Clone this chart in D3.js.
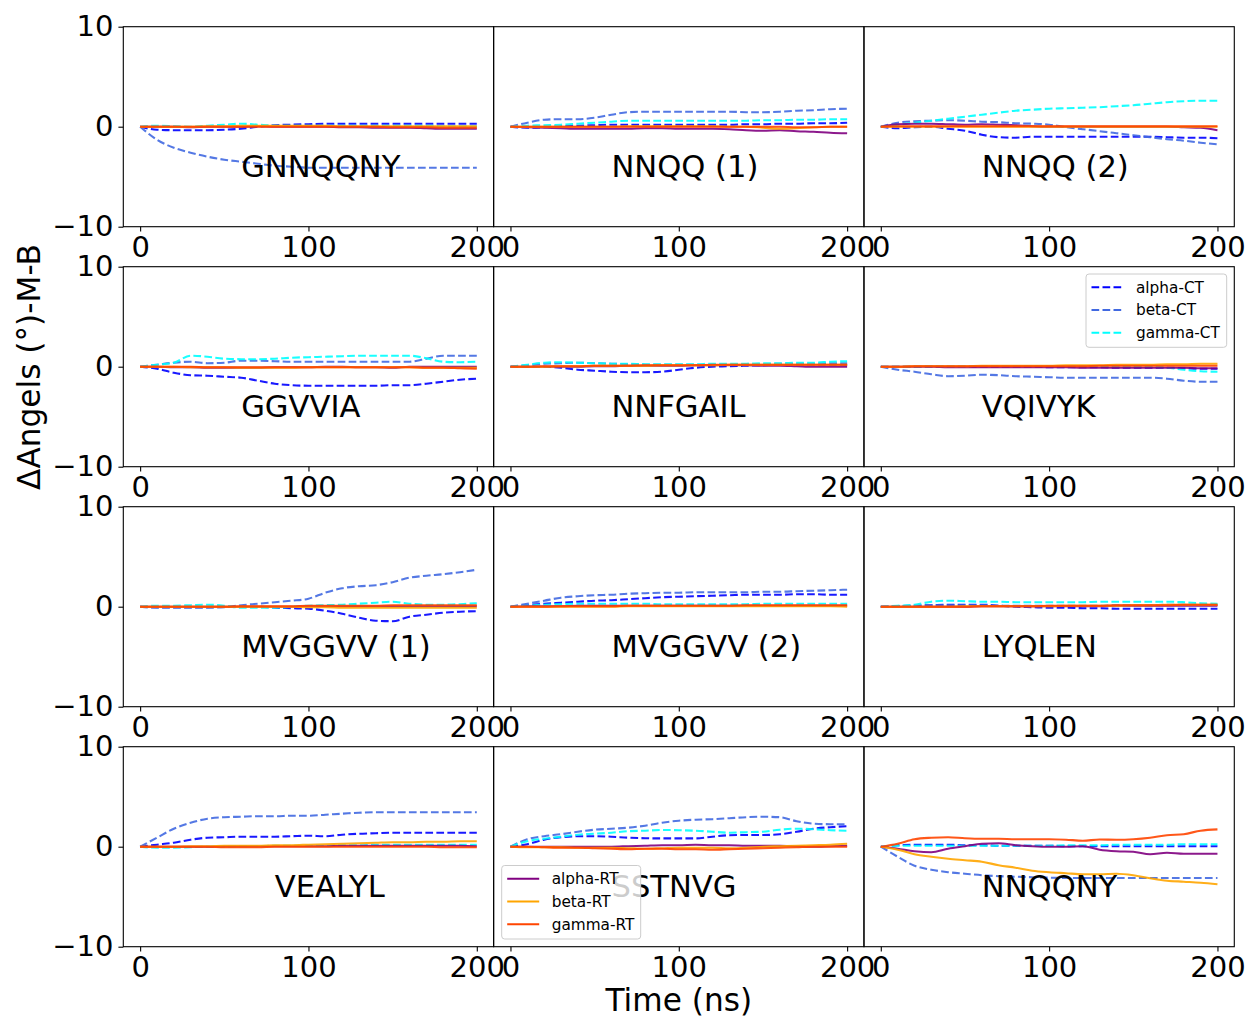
<!DOCTYPE html>
<html>
<head>
<meta charset="utf-8">
<script src="https://cdn.jsdelivr.net/npm/d3@7"></script>
<style>
  html, body { margin: 0; padding: 0; background: #ffffff; }
  svg { display: block; font-family: "DejaVu Sans", sans-serif; }
</style>
</head>
<body>
<svg id="chart" width="1250" height="1019"></svg>
<script>
// ---------------- data ----------------
const panelNames = ["GNNQQNY", "NNQQ (1)", "NNQQ (2)", "GGVVIA", "NNFGAIL", "VQIVYK",
                    "MVGGVV (1)", "MVGGVV (2)", "LYQLEN", "VEALYL", "SSTNVG", "NNQQNY"];
const labelX = [60, 60, 60, 60, 60, 60, 60, 60, 60, 80, 60, 60];
const labelY = -5;
const time = [0,10,20,30,40,50,60,70,80,90,100,110,120,130,140,150,160,170,180,190,200];
const xTicks = [0, 100, 200];
const yTicks = [-10, 0, 10];
const seriesNames = ["alpha-CT", "beta-CT", "gamma-CT", "alpha-RT", "beta-RT", "gamma-RT"];

const alphaCT = [
  [0,-0.3,-0.35,-0.35,-0.35,-0.3,-0.2,0,0.15,0.2,0.25,0.3,0.3,0.3,0.3,0.3,0.3,0.3,0.3,0.3,0.3],
  [0,-0.1,-0.05,0.05,0.1,0.15,0.2,0.2,0.2,0.2,0.2,0.2,0.2,0.2,0.25,0.25,0.3,0.3,0.35,0.35,0.4],
  [0,-0.15,-0.05,0,-0.2,-0.4,-0.8,-1.05,-1.1,-1.0,-1.0,-1.0,-1.0,-1.0,-1.0,-1.0,-1.0,-1.05,-1.1,-1.1,-1.15],
  [0,-0.2,-0.6,-0.85,-0.9,-1.0,-1.1,-1.4,-1.7,-1.85,-1.9,-1.9,-1.9,-1.9,-1.9,-1.85,-1.85,-1.7,-1.5,-1.3,-1.2],
  [0,0,0,-0.1,-0.3,-0.4,-0.5,-0.55,-0.55,-0.5,-0.3,-0.1,0,0.05,0.1,0.15,0.2,0.2,0.2,0.2,0.15],
  [0,0,0,0,0,0,0,0,0,0,-0.05,-0.05,-0.05,-0.05,-0.1,-0.1,-0.1,-0.1,-0.15,-0.2,-0.2],
  [0,-0.05,-0.05,-0.05,-0.05,0,0,0,-0.1,-0.15,-0.2,-0.4,-0.7,-1.1,-1.4,-1.45,-1.0,-0.8,-0.6,-0.5,-0.45],
  [0,0.15,0.3,0.4,0.5,0.6,0.65,0.75,0.85,0.95,1.0,1.05,1.1,1.15,1.2,1.2,1.2,1.25,1.25,1.2,1.2],
  [0,0.05,0.1,0.15,0.2,0.2,0.2,0.1,0,-0.05,-0.1,-0.1,-0.15,-0.15,-0.2,-0.2,-0.2,-0.2,-0.2,-0.2,-0.2],
  [0,0.2,0.4,0.7,0.9,0.95,1.0,1.0,1.0,1.05,1.1,1.05,1.2,1.3,1.35,1.4,1.4,1.4,1.4,1.4,1.4],
  [0,0.25,0.7,0.95,1.05,1.05,1.0,0.9,0.85,0.83,0.83,0.83,1.0,1.15,1.17,1.17,1.25,1.5,1.8,1.95,2.05],
  [0,0.15,0.2,0.2,0.2,0.15,0.15,0.1,0.1,0.1,0.1,0.05,0.05,0.05,0.05,0.05,0.05,0.05,0.05,0.05,0.05]
];
const betaCT = [
  [0,-1.3,-2.1,-2.6,-3.0,-3.3,-3.5,-3.7,-3.9,-4.0,-4.1,-4.1,-4.1,-4.1,-4.1,-4.1,-4.1,-4.1,-4.1,-4.1,-4.1],
  [0,0.4,0.7,0.75,0.75,0.9,1.2,1.45,1.5,1.5,1.5,1.5,1.5,1.5,1.45,1.45,1.5,1.6,1.65,1.75,1.8],
  [0,0.4,0.55,0.6,0.65,0.6,0.5,0.45,0.35,0.3,0.2,-0.05,-0.25,-0.45,-0.65,-0.85,-1.05,-1.25,-1.4,-1.6,-1.77],
  [0,0.2,0.4,0.5,0.35,0.4,0.6,0.6,0.55,0.5,0.5,0.5,0.5,0.5,0.5,0.5,0.5,0.8,1.1,1.1,1.1],
  [0,0.15,0.3,0.35,0.4,0.35,0.3,0.25,0.2,0.2,0.2,0.2,0.2,0.2,0.25,0.25,0.3,0.3,0.3,0.35,0.35],
  [0,-0.3,-0.5,-0.75,-0.95,-0.9,-0.8,-0.85,-0.95,-1.0,-1.05,-1.1,-1.1,-1.1,-1.1,-1.1,-1.1,-1.2,-1.4,-1.5,-1.5],
  [0,-0.1,-0.1,-0.1,-0.1,-0.05,0.15,0.3,0.45,0.6,0.8,1.4,1.85,2.05,2.15,2.45,2.9,3.1,3.25,3.45,3.7],
  [0,0.3,0.6,0.9,1.05,1.15,1.2,1.3,1.35,1.4,1.4,1.45,1.45,1.45,1.45,1.5,1.5,1.55,1.6,1.65,1.7],
  [0,0.05,0.1,0.15,0.15,0.15,0.15,0.1,0.1,0.1,0.1,0.1,0.1,0.1,0.15,0.15,0.15,0.2,0.2,0.2,0.2],
  [0,0.9,1.8,2.4,2.8,2.95,3.0,3.05,3.05,3.1,3.1,3.2,3.3,3.4,3.45,3.45,3.45,3.45,3.45,3.45,3.45],
  [0,0.75,1.05,1.25,1.5,1.7,1.8,1.9,2.1,2.4,2.6,2.7,2.75,2.85,2.95,3.0,2.95,2.55,2.3,2.25,2.25],
  [0,-1.0,-1.9,-2.3,-2.55,-2.7,-2.85,-2.95,-3.0,-3.05,-3.1,-3.13,-3.13,-3.13,-3.13,-3.13,-3.13,-3.13,-3.13,-3.13,-3.13]
];
const gammaCT = [
  [0,0.1,0.05,0,0.1,0.2,0.3,0.2,0.1,0.1,0.1,0.1,0.1,0.1,0.1,0.1,0.1,0.1,0.05,0.05,0.05],
  [0,0.1,0.15,0.2,0.3,0.4,0.5,0.6,0.6,0.6,0.6,0.6,0.6,0.6,0.6,0.65,0.65,0.7,0.7,0.75,0.75],
  [0,0.2,0.4,0.6,0.8,1.0,1.2,1.4,1.6,1.7,1.8,1.85,1.9,1.95,2.05,2.15,2.3,2.45,2.55,2.6,2.6],
  [0,0.2,0.4,1.1,1.0,0.8,0.75,0.75,0.8,0.9,0.95,1.0,1.05,1.1,1.1,1.1,1.1,0.85,0.5,0.45,0.5],
  [0,0.2,0.4,0.45,0.4,0.35,0.3,0.3,0.25,0.25,0.25,0.25,0.3,0.3,0.3,0.35,0.35,0.4,0.4,0.5,0.55],
  [0,0,0,0.05,0.05,0.05,0.05,0.05,0.05,0.05,0.05,0.05,0.05,0.05,0,0,0,-0.1,-0.3,-0.45,-0.5],
  [0,0.1,0.1,0.15,0.2,0.1,-0.1,-0.1,-0.1,0,0.1,0.15,0.2,0.3,0.4,0.5,0.3,0.2,0.2,0.25,0.35],
  [0,0.1,0.2,0.25,0.3,0.3,0.3,0.3,0.3,0.25,0.25,0.25,0.25,0.25,0.25,0.3,0.3,0.3,0.3,0.3,0.3],
  [0,0.1,0.2,0.5,0.6,0.55,0.5,0.5,0.45,0.45,0.45,0.45,0.45,0.5,0.5,0.5,0.5,0.5,0.45,0.35,0.3],
  [0,-0.1,-0.1,-0.05,0,0,0.05,0.05,0.1,0.1,0.1,0.1,0.15,0.15,0.2,0.2,0.2,0.2,0.2,0.2,0.2],
  [0,0.55,0.8,1.0,1.2,1.3,1.4,1.55,1.6,1.67,1.65,1.6,1.5,1.4,1.45,1.5,1.7,1.8,1.75,1.65,1.6],
  [0,0.1,0.1,0.1,0.1,0.1,0.1,0.1,0.1,0.1,0.1,0.15,0.15,0.15,0.2,0.2,0.2,0.2,0.25,0.25,0.25]
];
const alphaRT = [
  [0,0,0,-0.05,0,0,0,0.05,0,0,0,0,-0.05,-0.05,-0.1,-0.1,-0.1,-0.15,-0.2,-0.2,-0.2],
  [0,-0.05,-0.1,-0.15,-0.2,-0.2,-0.2,-0.2,-0.15,-0.15,-0.2,-0.2,-0.2,-0.25,-0.35,-0.4,-0.35,-0.45,-0.5,-0.6,-0.65],
  [0,0.25,0.3,0.3,0.25,0.2,0.25,0.2,0.15,0.05,0,0,0,0,0,0,0,0,-0.05,-0.1,-0.35],
  [0,0,-0.05,-0.05,-0.1,-0.1,-0.1,-0.1,-0.05,-0.05,-0.05,0,0,-0.05,-0.05,-0.1,0,0,0,0,0],
  [0,0,0,0,0,0.05,0.05,0.1,0.1,0.1,0.1,0.15,0.15,0.15,0.15,0.1,0.1,0.05,0,0,0],
  [0,0,0,0,-0.05,-0.05,-0.05,-0.05,-0.05,-0.05,-0.05,-0.05,-0.1,-0.1,-0.1,-0.1,-0.1,-0.1,-0.1,-0.15,-0.15],
  [0,0,0,0,0,0,0,0,0,0,0.05,0.05,0.05,0.05,0.05,0.05,0.05,0.05,0.05,0.05,0.05],
  [0,0.05,0.05,0.05,0.1,0.1,0.1,0.1,0.1,0.1,0.1,0.1,0.1,0.1,0.1,0.1,0.1,0.1,0.1,0.1,0.1],
  [0,0,0,0,0,0,0.05,0.05,0.05,0.05,0.05,0.05,0.05,0.05,0.1,0.1,0.1,0.1,0.1,0.1,0.1],
  [0,0,0,0,0,0.05,0.05,0.05,0.05,0.05,0.05,0.05,0.1,0.1,0.1,0.1,0.1,0.1,0.1,0.1,0.05],
  [0,0,0,0,0,0,0,0.05,0.1,0.15,0.15,0.2,0.15,0.15,0.1,0.1,0.1,0.05,0,0.05,0.1],
  [0,-0.2,-0.45,-0.55,-0.2,0.05,0.3,0.35,0.15,0.05,0,0,0.05,-0.3,-0.45,-0.5,-0.75,-0.6,-0.7,-0.7,-0.7]
];
const betaRT = [
  [0,0,0,0,0.05,0.05,0.1,0.1,0.1,0.1,0.1,0.1,0.05,0.05,0.05,0.05,0.05,0.05,0.05,0.05,0.05],
  [0,0,0,0,0,0,0,0.05,0.05,0.05,0.05,0.05,0.05,0,0,-0.1,-0.2,-0.15,-0.05,0,0],
  [0,0,0,0,0,0,0,0,0,0,0,0,0,0,0,0,0,0,0,0,0],
  [0,0,0,-0.05,-0.05,-0.05,-0.1,-0.1,-0.1,-0.1,-0.05,-0.05,-0.05,-0.05,-0.05,-0.05,-0.05,-0.1,-0.1,-0.1,-0.1],
  [0,0,0,0.05,0.05,0.1,0.1,0.1,0.1,0.15,0.15,0.15,0.15,0.2,0.2,0.2,0.2,0.2,0.2,0.2,0.2],
  [0,0,0.05,0.05,0.05,0.05,0.1,0.1,0.1,0.1,0.1,0.15,0.15,0.15,0.2,0.2,0.2,0.25,0.25,0.3,0.3],
  [0,0,0,0,0,0,0,0,0,0,-0.05,-0.05,-0.1,-0.1,-0.1,-0.1,-0.1,-0.1,-0.1,-0.1,-0.1],
  [0,0,0,0,0,0,0,0.05,0.05,0.05,0.05,0.05,0.05,0.05,0.05,0.05,0.05,0.05,0.05,0.05,0],
  [0,0,0,0,0,0.05,0.05,0.05,0.05,0.05,0.05,0.1,0.1,0.1,0.1,0.15,0.15,0.2,0.2,0.2,0.2],
  [0,0,0,0.05,0.05,0.1,0.1,0.1,0.15,0.15,0.2,0.25,0.3,0.35,0.4,0.45,0.45,0.5,0.5,0.55,0.55],
  [0,-0.05,-0.05,-0.05,-0.1,-0.1,-0.1,-0.15,-0.2,-0.15,-0.1,-0.1,-0.1,-0.15,-0.1,0,0.05,0.1,0.15,0.2,0.3],
  [0,-0.3,-0.75,-1.0,-1.2,-1.35,-1.5,-1.85,-2.1,-2.4,-2.55,-2.65,-2.75,-2.75,-2.7,-2.85,-3.15,-3.4,-3.5,-3.6,-3.75]
];
const gammaRT = [
  [0,0,0,0,0,0,0,0,0,0,0,0,0,0,0,-0.05,-0.05,-0.05,-0.1,-0.1,-0.1],
  [0,0,0,0,0,0,0,0,0,0,0,0,0,0,0,0,0,-0.05,-0.05,0,0],
  [0,0.05,0.05,0.05,0.05,0.05,0.05,0.05,0.05,0.05,0.05,0.05,0.05,0.05,0.05,0.05,0.05,0.05,0.05,0.05,0.05],
  [0,0,0,0,-0.05,-0.05,-0.05,-0.05,-0.05,-0.05,-0.05,-0.05,-0.05,-0.05,-0.05,-0.05,-0.05,-0.1,-0.1,-0.15,-0.2],
  [0,0,0.05,0.05,0.05,0.1,0.1,0.1,0.15,0.15,0.15,0.15,0.2,0.2,0.2,0.2,0.2,0.2,0.2,0.2,0.2],
  [0,0,0.05,0.05,0.05,0.05,0.05,0.05,0.05,0.05,0.05,0.05,0.05,0.1,0.1,0.1,0.1,0.1,0.1,0.1,0.1],
  [0,0,0,0,0,0,0.05,0.05,0.05,0.05,0.1,0.1,0.1,0.1,0.1,0.15,0.15,0.15,0.15,0.15,0.15],
  [0,0,0,0.05,0.05,0.05,0.05,0.1,0.1,0.1,0.1,0.1,0.1,0.1,0.15,0.15,0.15,0.15,0.15,0.15,0.15],
  [0,0,0,0,0,0,0.05,0.05,0.05,0.05,0.1,0.1,0.1,0.1,0.15,0.15,0.15,0.15,0.2,0.2,0.2],
  [0,0,0,0,0,-0.05,-0.05,-0.05,0,0,0,0,0,0,0,0,0,0,-0.05,-0.05,-0.05],
  [0,0,-0.05,-0.1,-0.1,-0.15,-0.2,-0.25,-0.2,-0.2,-0.25,-0.25,-0.3,-0.25,-0.2,-0.15,-0.1,-0.05,0,0,0],
  [0,0.3,0.75,0.9,0.95,0.85,0.8,0.8,0.75,0.75,0.75,0.7,0.6,0.72,0.7,0.75,0.9,1.15,1.25,1.6,1.73]
];

// ---------------- styles ----------------
const seriesData = [alphaCT, betaCT, gammaCT, alphaRT, betaRT, gammaRT];
const seriesColors = ["#0000ff", "#4169e1", "#00ffff", "#800080", "#ffa500", "#ff4500"];
const seriesDashed = [true, true, true, false, false, false];
const DASH = "7.7,3.3";
const LW = 2.1;
const FONT = "DejaVu Sans, sans-serif";
const TICK_FS = 29;
const LABEL_FS = 30.6;
const TITLE_FS = 31.2;

// ---------------- layout ----------------
const svg = d3.select("#chart");
const leftX = 123.3, topY = 26.7;
const pw = 370.33, ph = 200, gapY = 40;
const x = d3.scaleLinear().domain([-10, 210]).range([0, pw]);
const y = d3.scaleLinear().domain([-10, 10]).range([ph, 0]);
const fmt = d => (d < 0 ? "\u2212" + Math.abs(d) : String(d));

const line = d3.line().x((d, i) => x(time[i])).y(d => y(d)).curve(d3.curveMonotoneX);

panelNames.forEach((name, p) => {
  const col = p % 3, row = Math.floor(p / 3);
  const g = svg.append("g").attr("transform", `translate(${leftX + col * pw},${topY + row * (ph + gapY)})`);

  seriesData.forEach((s, k) => {
    g.append("path")
      .attr("d", line(s[p]))
      .attr("fill", "none")
      .attr("stroke", seriesColors[k])
      .attr("stroke-width", LW)
      .attr("stroke-opacity", 0.9)
      .attr("stroke-dasharray", seriesDashed[k] ? DASH : null)
      .attr("stroke-linejoin", "round");
  });

  g.append("text")
    .attr("x", x(labelX[p]))
    .attr("y", y(labelY))
    .attr("font-family", FONT)
    .attr("font-size", LABEL_FS)
    .attr("fill", "#000")
    .text(name);

  g.append("rect").attr("x", 0).attr("y", 0).attr("width", pw).attr("height", ph)
    .attr("fill", "none").attr("stroke", "#000").attr("stroke-width", 1.1);

  const xa = g.append("g").attr("transform", `translate(0,${ph})`)
    .call(d3.axisBottom(x).tickValues(xTicks).tickSize(4.9).tickPadding(4.9).tickFormat(fmt));
  xa.select(".domain").remove();
  xa.selectAll("line").attr("stroke", "#000").attr("stroke-width", 1.1);
  xa.selectAll("text").attr("font-family", FONT).attr("font-size", TICK_FS).attr("fill", "#000");

  if (col === 0) {
    const ya = g.append("g")
      .call(d3.axisLeft(y).tickValues(yTicks).tickSize(4.9).tickPadding(4.9).tickFormat(fmt));
    ya.select(".domain").remove();
    ya.selectAll("line").attr("stroke", "#000").attr("stroke-width", 1.1);
    ya.selectAll("text").attr("font-family", FONT).attr("font-size", TICK_FS).attr("fill", "#000");
  }
});

// ---------------- legends ----------------
function legend(gx, gy, w, h, idx) {
  const g = svg.append("g").attr("transform", `translate(${gx},${gy})`);
  g.append("rect").attr("width", w).attr("height", h).attr("rx", 3).attr("ry", 3)
    .attr("fill", "#ffffff").attr("fill-opacity", 0.8)
    .attr("stroke", "#cccccc").attr("stroke-width", 1);
  idx.forEach((k, i) => {
    const cy = 13.3 + i * 22.7;
    g.append("line").attr("x1", 5.5).attr("x2", 37.5).attr("y1", cy).attr("y2", cy)
      .attr("stroke", seriesColors[k]).attr("stroke-width", LW)
      .attr("stroke-dasharray", seriesDashed[k] ? DASH : null);
    g.append("text").attr("x", 50).attr("y", cy + 5.4)
      .attr("font-family", FONT).attr("font-size", 15.3).attr("fill", "#000")
      .text(seriesNames[k]);
  });
}
legend(1086, 274, 140.7, 73.3, [0, 1, 2]);
legend(501.7, 865.5, 139, 73.5, [3, 4, 5]);

// ---------------- axis titles ----------------
svg.append("text")
  .attr("transform", "translate(40,367) rotate(-90)")
  .attr("text-anchor", "middle")
  .attr("font-family", FONT).attr("font-size", TITLE_FS).attr("fill", "#000")
  .text("\u0394Angels (\u00b0)-M-B");

svg.append("text")
  .attr("x", 678.8).attr("y", 1011)
  .attr("text-anchor", "middle")
  .attr("font-family", FONT).attr("font-size", TITLE_FS).attr("fill", "#000")
  .text("Time (ns)");
</script>
</body>
</html>
